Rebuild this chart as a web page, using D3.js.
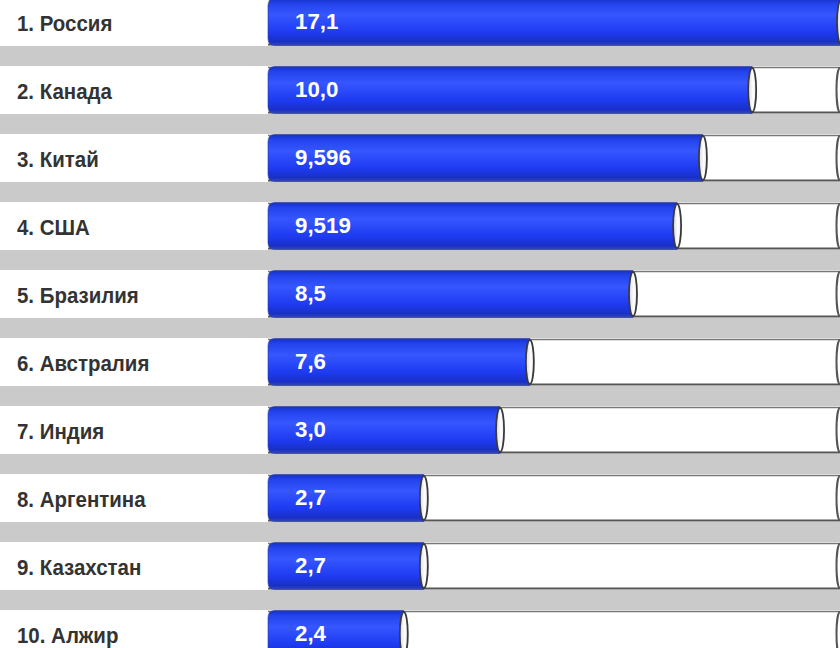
<!DOCTYPE html>
<html>
<head>
<meta charset="utf-8">
<script src="https://cdn.jsdelivr.net/npm/d3@7"></script>
<style>
  html, body { margin: 0; padding: 0; background: #fff; }
  svg { display: block; }
</style>
</head>
<body>
<svg id="chart"></svg>
<script>
var width = 840;
var height = 648;

// data
var countries = ["Россия", "Канада", "Китай", "США", "Бразилия", "Австралия", "Индия", "Аргентина", "Казахстан", "Алжир"];
var values = [17.1, 10.0, 9.596, 9.519, 8.5, 7.6, 3.0, 2.7, 2.7, 2.4];
var valueLabels = ["17,1", "10,0", "9,596", "9,519", "8,5", "7,6", "3,0", "2,7", "2,7", "2,4"];
// bar fill, in percent of the tube (the picture does not draw bars to value scale)
var barLength = [100, 84.5, 75.9, 71.4, 63.7, 45.7, 40.5, 27.2, 27.2, 23.7];

var rows = countries.map((c, i) => ({
  label: (i + 1) + ". " + c,
  value: values[i],
  text: valueLabels[i],
  len: barLength[i]
}));

var svg =
  d3.select("#chart")
    .attr("width", width)
    .attr("height", height);

// scales
var yScale =
  d3.scaleBand()
    .domain(rows.map(d => d.label))
    .range([-2, 658])
    .paddingInner(20 / 68)
    .paddingOuter(0);

var xScale =
  d3.scaleLinear()
    .domain([0, 100])
    .range([268, 841]);

var bw = yScale.bandwidth();

// gradients
var defs = svg.append("defs");

var blue = defs.append("linearGradient")
    .attr("id", "blue")
    .attr("x1", 0).attr("y1", 0).attr("x2", 0).attr("y2", 1);
blue.append("stop").attr("offset", "0%").attr("stop-color", "#1a30c8");
blue.append("stop").attr("offset", "12%").attr("stop-color", "#2444ee");
blue.append("stop").attr("offset", "35%").attr("stop-color", "#3656ff");
blue.append("stop").attr("offset", "70%").attr("stop-color", "#1f3cf2");
blue.append("stop").attr("offset", "92%").attr("stop-color", "#1830c8");
blue.append("stop").attr("offset", "100%").attr("stop-color", "#3a4aa8");

var cap = defs.append("linearGradient")
    .attr("id", "cap")
    .attr("x1", 0).attr("y1", 0).attr("x2", 1).attr("y2", 0);
cap.append("stop").attr("offset", "0%").attr("stop-color", "#d8d8e0");
cap.append("stop").attr("offset", "60%").attr("stop-color", "#ffffff");
cap.append("stop").attr("offset", "100%").attr("stop-color", "#e8e8e8");

// background (grey separators)
svg.append("rect")
    .attr("width", width)
    .attr("height", height)
    .attr("fill", "#cacaca");

var row =
  svg.selectAll("g.row")
    .data(rows)
    .enter()
    .append("g")
      .classed("row", true)
      .attr("transform", d => `translate(0, ${yScale(d.label)})`);

// white row
row.append("rect")
    .attr("x", 0)
    .attr("width", width)
    .attr("height", bw)
    .attr("fill", "#ffffff");

// tube track
row.append("rect")
    .attr("x", xScale(0))
    .attr("y", 1)
    .attr("width", xScale(100) - xScale(0))
    .attr("height", bw - 2)
    .attr("fill", "#ffffff");

row.append("line")
    .attr("x1", xScale(0)).attr("x2", xScale(100))
    .attr("y1", 1.5).attr("y2", 1.5)
    .attr("stroke", "#777")
    .attr("stroke-width", 1.5);

row.append("line")
    .attr("x1", xScale(0)).attr("x2", xScale(100))
    .attr("y1", bw - 1.5).attr("y2", bw - 1.5)
    .attr("stroke", "#555")
    .attr("stroke-width", 2);

row.append("ellipse")
    .attr("cx", xScale(100) - 1)
    .attr("cy", bw / 2)
    .attr("rx", 3.5)
    .attr("ry", bw / 2 - 2)
    .attr("fill", "#ffffff")
    .attr("stroke", "#555")
    .attr("stroke-width", 2);

// blue bar with rounded left end
function barPath(d) {
  var x0 = xScale(0), x1 = xScale(d.len), r = 7, t = 0.5, b = bw - 0.5;
  return `M${x1},${t} L${x0 + r},${t} Q${x0},${t} ${x0},${t + r} L${x0},${b - r} Q${x0},${b} ${x0 + r},${b} L${x1},${b} Z`;
}

row.append("path")
    .attr("d", barPath)
    .attr("fill", "url(#blue)")
    .attr("stroke", "#2a3a9a")
    .attr("stroke-width", 0.6);

// end cap of the blue bar
row.append("ellipse")
    .attr("cx", d => xScale(d.len))
    .attr("cy", bw / 2)
    .attr("rx", 4)
    .attr("ry", bw / 2 - 2)
    .attr("fill", "url(#cap)")
    .attr("stroke", "#3a3a3a")
    .attr("stroke-width", 1.8);

// country labels (the source type is a little narrow)
row.append("text")
    .text(d => d.label)
    .attr("transform", `translate(17, ${bw / 2}) scale(0.93, 1)`)
    .attr("dy", "0.42em")
    .attr("fill", "#333")
    .style("font-family", "'Liberation Sans', Arial, sans-serif")
    .style("font-weight", "bold")
    .style("font-size", "22px");

// value labels
row.append("text")
    .text(d => d.text)
    .attr("transform", `translate(295, ${bw / 2}) scale(0.97, 1)`)
    .attr("dy", "0.31em")
    .attr("fill", "#ffffff")
    .style("font-family", "'Liberation Sans', Arial, sans-serif")
    .style("font-weight", "bold")
    .style("font-size", "23px");
</script>
</body>
</html>
